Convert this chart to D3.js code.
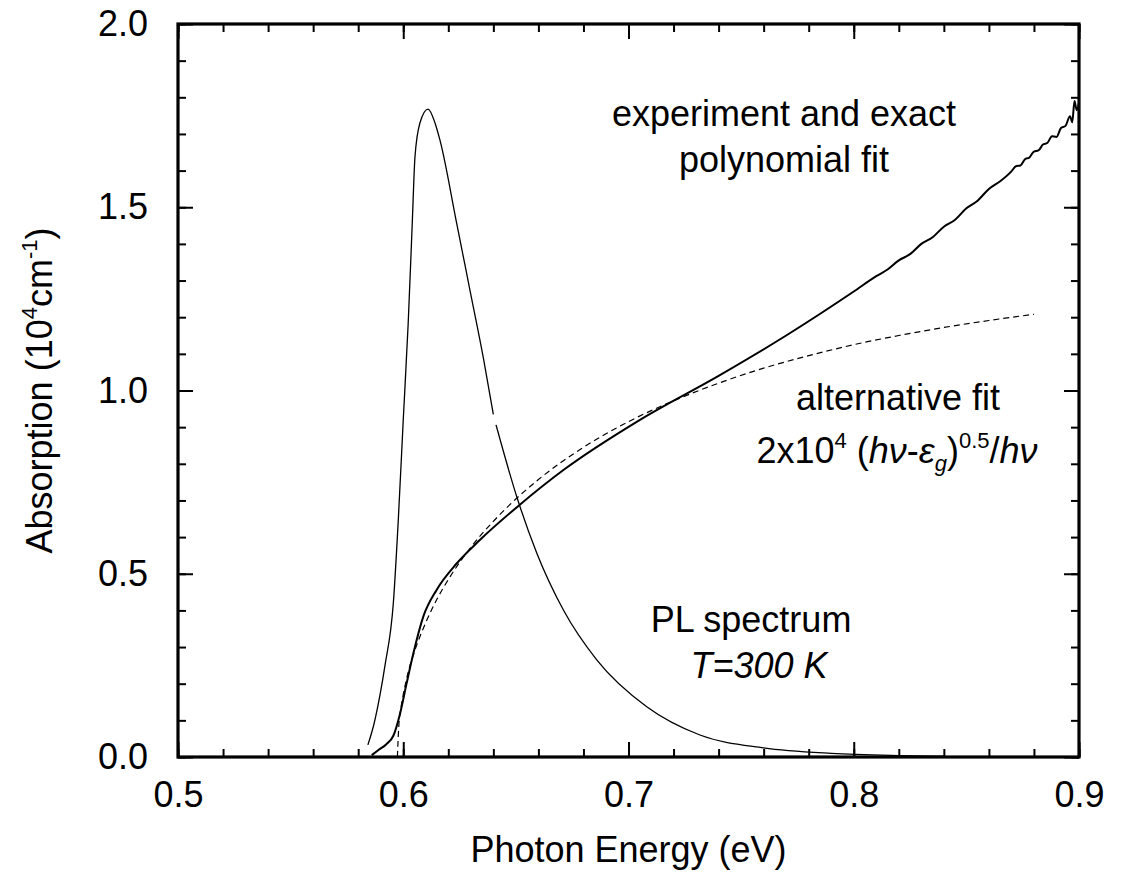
<!DOCTYPE html>
<html>
<head>
<meta charset="utf-8">
<script src="https://cdn.jsdelivr.net/npm/d3@7"></script>
<style>
  body { margin: 0; background: #fff; }
  text { font-family: "Liberation Sans", Arial, sans-serif; fill: #000; }
</style>
</head>
<body>
<div id="viz-container"></div>
<script>
// values: [photon energy (eV), absorption (10^4 cm^-1)]
const experiment = [
  [0.586, 0.005], [0.589, 0.019], [0.5925, 0.035], [0.5956, 0.058], [0.5986, 0.119],
  [0.6015, 0.201], [0.6045, 0.283], [0.6089, 0.383], [0.6148, 0.456], [0.6237, 0.528],
  [0.634, 0.592], [0.6511, 0.685], [0.6711, 0.783], [0.7051, 0.92], [0.74, 1.04],
  [0.77, 1.15], [0.80, 1.27], [0.81, 1.312], [0.815, 1.330], [0.82, 1.355],
  [0.825, 1.372], [0.83, 1.40], [0.835, 1.418], [0.84, 1.447], [0.845, 1.466],
  [0.85, 1.497], [0.855, 1.518], [0.86, 1.55], [0.865, 1.571],
  [0.870, 1.598], [0.872, 1.612], [0.874, 1.614], [0.876, 1.631], [0.878, 1.636],
  [0.880, 1.652], [0.882, 1.655], [0.884, 1.671], [0.886, 1.676], [0.888, 1.694],
  [0.890, 1.692], [0.892, 1.716], [0.894, 1.722], [0.896, 1.748], [0.897, 1.732],
  [0.898, 1.790], [0.899, 1.765], [0.900, 1.785]
];

// alternative fit (dashed)
const altFit = [
  [0.5974, 0.0], [0.598, 0.082], [0.599, 0.134], [0.600, 0.170], [0.602, 0.227],
  [0.605, 0.288], [0.61, 0.367], [0.615, 0.431], [0.62, 0.484], [0.63, 0.572],
  [0.64, 0.643], [0.65, 0.704], [0.66, 0.757], [0.68, 0.845], [0.70, 0.915],
  [0.72, 0.972], [0.74, 1.020], [0.76, 1.061], [0.78, 1.095], [0.80, 1.125],
  [0.82, 1.150], [0.84, 1.172], [0.86, 1.191], [0.88, 1.208]
];

// PL spectrum (arbitrary units, drawn on same axis); null marks the small break in the trace
const plSpectrum = [
  [0.5843, 0.033], [0.587, 0.09], [0.5897, 0.17], [0.5919, 0.25], [0.5956, 0.42],
  [0.5978, 0.647], [0.600, 0.92], [0.6022, 1.184], [0.604, 1.457], [0.6052, 1.637],
  [0.6074, 1.73], [0.611, 1.768], [0.6141, 1.73], [0.6163, 1.683], [0.6237, 1.457],
  [0.6296, 1.274], [0.6355, 1.091], [0.6400, 0.935], [0.6405, null],
  [0.6412, 0.906], [0.6504, 0.71], [0.6593, 0.556],
  [0.6711, 0.401], [0.6859, 0.265], [0.7081, 0.137], [0.7317, 0.06], [0.76, 0.025],
  [0.79, 0.01], [0.82, 0.004], [0.84, 0.002]
];

const xTicks = [0.5, 0.6, 0.7, 0.8, 0.9];
const yTicks = [0.0, 0.5, 1.0, 1.5, 2.0];

const width = 1121, height = 882;
const plot = { left: 178, right: 1079, top: 24, bottom: 757 };

const svg = d3.select('#viz-container')
  .append('svg')
  .attr('width', width)
  .attr('height', height);

const x = d3.scaleLinear().domain([0.5, 0.9]).range([plot.left, plot.right]);
const y = d3.scaleLinear().domain([0, 2]).range([plot.bottom, plot.top]);

const fmt = d3.format('.1f');
const minorX = d3.range(0.5, 0.9001, 0.02);
const minorY = d3.range(0, 2.0001, 0.1);

function styleAxis(g) {
  g.select('.domain').remove();
  g.selectAll('.tick line').attr('stroke', '#000').attr('stroke-width', 2);
  g.selectAll('.tick text').attr('font-size', 36).attr('fill', '#000')
    .style('font-family', '"Liberation Sans", Arial, sans-serif');
}

// minor ticks on all four sides (inward)
svg.append('g').attr('transform', `translate(0,${plot.bottom})`)
  .call(d3.axisBottom(x).tickValues(minorX).tickSize(-8).tickFormat('')).call(styleAxis);
svg.append('g').attr('transform', `translate(0,${plot.top})`)
  .call(d3.axisTop(x).tickValues(minorX).tickSize(-8).tickFormat('')).call(styleAxis);
svg.append('g').attr('transform', `translate(${plot.left},0)`)
  .call(d3.axisLeft(y).tickValues(minorY).tickSize(-8).tickFormat('')).call(styleAxis);
svg.append('g').attr('transform', `translate(${plot.right},0)`)
  .call(d3.axisRight(y).tickValues(minorY).tickSize(-8).tickFormat('')).call(styleAxis);

// major ticks
svg.append('g').attr('transform', `translate(0,${plot.bottom})`)
  .call(d3.axisBottom(x).tickValues(xTicks).tickSize(-15).tickPadding(24).tickFormat(fmt))
  .call(styleAxis);
svg.append('g').attr('transform', `translate(0,${plot.top})`)
  .call(d3.axisTop(x).tickValues(xTicks).tickSize(-15).tickFormat('')).call(styleAxis);
svg.append('g').attr('transform', `translate(${plot.left},0)`)
  .call(d3.axisLeft(y).tickValues(yTicks).tickSize(-15).tickPadding(30).tickFormat(fmt))
  .call(styleAxis);
svg.append('g').attr('transform', `translate(${plot.right},0)`)
  .call(d3.axisRight(y).tickValues(yTicks).tickSize(-15).tickFormat('')).call(styleAxis);

// frame
svg.append('rect')
  .attr('x', plot.left).attr('y', plot.top)
  .attr('width', plot.right - plot.left).attr('height', plot.bottom - plot.top)
  .attr('fill', 'none').attr('stroke', '#000').attr('stroke-width', 3.2);

const line = d3.line()
  .defined(d => d[1] !== null)
  .x(d => x(d[0]))
  .y(d => y(d[1]))
  .curve(d3.curveMonotoneX);

svg.append('path').datum(plSpectrum)
  .attr('d', line).attr('fill', 'none').attr('stroke', '#000').attr('stroke-width', 1.3);

svg.append('path').datum(altFit)
  .attr('d', line).attr('fill', 'none').attr('stroke', '#000').attr('stroke-width', 1.2)
  .attr('stroke-dasharray', '6,4');

svg.append('path').datum(experiment)
  .attr('d', line).attr('fill', 'none').attr('stroke', '#000').attr('stroke-width', 2);

// axis titles
svg.append('text')
  .attr('x', (plot.left + plot.right) / 2).attr('y', 862)
  .attr('text-anchor', 'middle').attr('font-size', 36)
  .text('Photon Energy (eV)');

const yTitle = svg.append('text')
  .attr('transform', `translate(52,${(plot.top + plot.bottom) / 2}) rotate(-90)`)
  .attr('text-anchor', 'middle').attr('font-size', 36);
yTitle.append('tspan').text('Absorption (10');
yTitle.append('tspan').attr('font-size', 22).attr('dy', -15).text('4');
yTitle.append('tspan').attr('dy', 15).text('cm');
yTitle.append('tspan').attr('font-size', 22).attr('dy', -15).text('-1');
yTitle.append('tspan').attr('dy', 15).text(')');

// annotations
svg.append('text').attr('x', 784).attr('y', 126)
  .attr('text-anchor', 'middle').attr('font-size', 36).text('experiment and exact');
svg.append('text').attr('x', 784).attr('y', 172)
  .attr('text-anchor', 'middle').attr('font-size', 36).text('polynomial fit');

svg.append('text').attr('x', 898).attr('y', 410)
  .attr('text-anchor', 'middle').attr('font-size', 36).text('alternative fit');

const formula = svg.append('text').attr('x', 897).attr('y', 463)
  .attr('text-anchor', 'middle').attr('font-size', 36);
formula.append('tspan').text('2x10');
formula.append('tspan').attr('font-size', 22).attr('dy', -15).text('4');
formula.append('tspan').attr('dy', 15).text(' (');
formula.append('tspan').attr('font-style', 'italic').text('hν');
formula.append('tspan').text('-');
formula.append('tspan').attr('font-style', 'italic').text('ε');
formula.append('tspan').attr('font-size', 22).attr('font-style', 'italic').attr('dy', 8).text('g');
formula.append('tspan').attr('dy', -8).text(')');
formula.append('tspan').attr('font-size', 22).attr('dy', -15).text('0.5');
formula.append('tspan').attr('dy', 15).text('/');
formula.append('tspan').attr('font-style', 'italic').text('hν');

svg.append('text').attr('x', 751).attr('y', 632)
  .attr('text-anchor', 'middle').attr('font-size', 36).text('PL spectrum');
svg.append('text').attr('x', 759).attr('y', 678)
  .attr('text-anchor', 'middle').attr('font-size', 36).attr('font-style', 'italic').text('T=300 K');
</script>
</body>
</html>
